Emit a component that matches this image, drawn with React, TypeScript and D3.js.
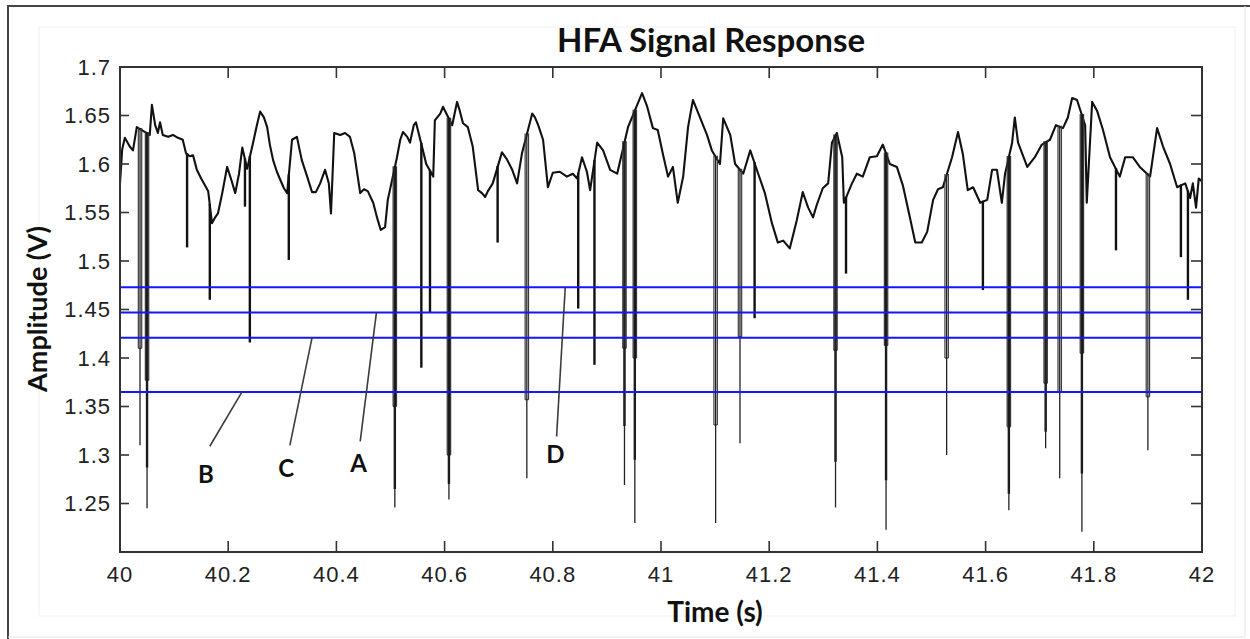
import React from "react";
import * as d3 from "d3";

// ---------- DATA ----------
const baseTime = [
  40.000, 40.004, 40.009, 40.018, 40.024, 40.031, 40.055, 40.059, 40.065, 40.070,
  40.074, 40.079, 40.089, 40.098, 40.107, 40.116, 40.122, 40.129, 40.135, 40.142,
  40.150, 40.157, 40.163, 40.170, 40.176, 40.181, 40.189, 40.198, 40.205, 40.213,
  40.220, 40.226, 40.235, 40.246, 40.253, 40.259, 40.266, 40.272, 40.277, 40.283,
  40.290, 40.296, 40.303, 40.309, 40.318, 40.327, 40.336, 40.346, 40.355, 40.362,
  40.370, 40.379, 40.386, 40.390, 40.396, 40.407, 40.416, 40.425, 40.433, 40.444,
  40.451, 40.458, 40.468, 40.475, 40.482, 40.490, 40.495, 40.512, 40.518, 40.523,
  40.531, 40.536, 40.543, 40.547, 40.560, 40.566, 40.579, 40.582, 40.592, 40.597,
  40.614, 40.623, 40.628, 40.634, 40.643, 40.652, 40.662, 40.669, 40.675, 40.680,
  40.689, 40.706, 40.715, 40.725, 40.734, 40.743, 40.762, 40.767, 40.773, 40.782,
  40.791, 40.800, 40.813, 40.826, 40.837, 40.845, 40.854, 40.863, 40.869, 40.882,
  40.893, 40.906, 40.919, 40.939, 40.965, 40.974, 40.985, 40.994, 41.004, 41.013,
  41.022, 41.031, 41.041, 41.050, 41.059, 41.072, 41.085, 41.094, 41.109, 41.115,
  41.128, 41.137, 41.152, 41.165, 41.179, 41.192, 41.205, 41.216, 41.226, 41.238,
  41.251, 41.262, 41.272, 41.281, 41.288, 41.299, 41.309, 41.316, 41.325, 41.335,
  41.338, 41.353, 41.362, 41.373, 41.386, 41.399, 41.410, 41.423, 41.436, 41.447,
  41.460, 41.470, 41.482, 41.492, 41.503, 41.512, 41.521, 41.538, 41.549, 41.558,
  41.567, 41.577, 41.590, 41.603, 41.612, 41.621, 41.630, 41.636, 41.649, 41.654,
  41.660, 41.677, 41.691, 41.704, 41.719, 41.730, 41.743, 41.752, 41.760, 41.769,
  41.784, 41.787, 41.797, 41.806, 41.817, 41.830, 41.848, 41.858, 41.872, 41.885,
  41.904, 41.917, 41.928, 41.941, 41.954, 41.969, 41.978, 41.983, 41.989, 41.994,
  42.000,
];
const baseValue = [
  1.580, 1.615, 1.627, 1.618, 1.614, 1.638, 1.630, 1.661, 1.640, 1.632,
  1.643, 1.630, 1.628, 1.630, 1.627, 1.625, 1.611, 1.608, 1.609, 1.594,
  1.585, 1.578, 1.572, 1.539, 1.545, 1.549, 1.570, 1.597, 1.585, 1.570,
  1.590, 1.617, 1.595, 1.622, 1.640, 1.654, 1.648, 1.638, 1.620, 1.604,
  1.592, 1.584, 1.575, 1.570, 1.625, 1.628, 1.604, 1.587, 1.571, 1.571,
  1.580, 1.594, 1.580, 1.549, 1.632, 1.630, 1.632, 1.628, 1.611, 1.570,
  1.574, 1.572, 1.560, 1.545, 1.532, 1.535, 1.563, 1.607, 1.625, 1.633,
  1.628, 1.622, 1.640, 1.643, 1.614, 1.600, 1.587, 1.645, 1.652, 1.659,
  1.640, 1.664, 1.655, 1.642, 1.638, 1.618, 1.573, 1.570, 1.566, 1.572,
  1.580, 1.612, 1.605, 1.594, 1.580, 1.611, 1.652, 1.648, 1.640, 1.625,
  1.576, 1.591, 1.592, 1.587, 1.590, 1.585, 1.607, 1.592, 1.573, 1.622,
  1.614, 1.594, 1.590, 1.638, 1.673, 1.660, 1.637, 1.635, 1.609, 1.587,
  1.597, 1.560, 1.587, 1.638, 1.666, 1.648, 1.630, 1.614, 1.600, 1.647,
  1.630, 1.600, 1.590, 1.614, 1.591, 1.570, 1.539, 1.519, 1.521, 1.513,
  1.542, 1.571, 1.555, 1.545, 1.558, 1.575, 1.580, 1.622, 1.632, 1.607,
  1.560, 1.580, 1.590, 1.587, 1.607, 1.608, 1.620, 1.600, 1.597, 1.578,
  1.545, 1.519, 1.519, 1.530, 1.563, 1.574, 1.576, 1.607, 1.633, 1.610,
  1.573, 1.576, 1.560, 1.563, 1.594, 1.594, 1.560, 1.590, 1.622, 1.648,
  1.622, 1.597, 1.607, 1.620, 1.625, 1.640, 1.637, 1.648, 1.668, 1.666,
  1.640, 1.560, 1.664, 1.655, 1.635, 1.607, 1.587, 1.607, 1.607, 1.597,
  1.587, 1.637, 1.618, 1.600, 1.576, 1.580, 1.565, 1.580, 1.555, 1.585,
  1.582,
];

// Downward spikes: time and the successive depths reached (shallow -> deep)
const spikeTime = [
  40.037, 40.050, 40.124, 40.166, 40.231, 40.240, 40.312, 40.508, 40.557, 40.573,
  40.608, 40.698, 40.752, 40.847, 40.877, 40.9325, 40.9516, 41.101, 41.146, 41.173,
  41.3226, 41.342, 41.416, 41.528, 41.595, 41.643, 41.711, 41.737, 41.778, 41.841,
  41.900, 41.961, 41.974,
];
const spikeDepths = [
  [1.41, 1.31], [1.377, 1.287, 1.245], [1.514], [1.46], [1.556], [1.416], [1.501],
  [1.35, 1.265, 1.246], [1.39], [1.447], [1.30, 1.27, 1.254], [1.519], [1.357, 1.276],
  [1.451], [1.393], [1.41, 1.33, 1.269], [1.40, 1.295, 1.23], [1.331, 1.23], [1.422, 1.312],
  [1.441], [1.408, 1.293, 1.246], [1.487], [1.413, 1.274, 1.223], [1.40, 1.30], [1.47],
  [1.329, 1.26, 1.243], [1.374, 1.324, 1.307], [1.365, 1.276], [1.405, 1.281, 1.221],
  [1.511], [1.36, 1.305], [1.504], [1.46],
];

// Threshold levels (blue lines)
const thresholdNames = ["D", "A", "C", "B"];
const thresholdValues = [1.473, 1.447, 1.421, 1.365];

// Annotation labels: text position and leader line (time, amplitude)
const annoLabel = ["B", "C", "A", "D"];
const annoTextT = [40.159, 40.307, 40.441, 40.805];
const annoTextV = [1.281, 1.287, 1.292, 1.302];
const annoFromT = [40.166, 40.314, 40.444, 40.807];
const annoFromV = [1.309, 1.310, 1.314, 1.319];
const annoToT = [40.2255, 40.355, 40.474, 40.823];
const annoToV = [1.365, 1.421, 1.447, 1.473];

const xTicks = [40, 40.2, 40.4, 40.6, 40.8, 41, 41.2, 41.4, 41.6, 41.8, 42];
const xTickLabels = ["40", "40.2", "40.4", "40.6", "40.8", "41", "41.2", "41.4", "41.6", "41.8", "42"];
const yTicks = [1.25, 1.3, 1.35, 1.4, 1.45, 1.5, 1.55, 1.6, 1.65, 1.7];
const yTickLabels = ["1.25", "1.3", "1.35", "1.4", "1.45", "1.5", "1.55", "1.6", "1.65", "1.7"];

// ---------- LAYOUT ----------
const W = 1250;
const H = 639;
const plot = { left: 120, right: 1202, top: 67, bottom: 552 };

export default function App() {
  const x = d3.scaleLinear().domain([40, 42]).range([plot.left, plot.right]);
  const y = d3.scaleLinear().domain([1.2, 1.7]).range([plot.bottom, plot.top]);
  const baseAt = d3.scaleLinear().domain(baseTime).range(baseValue).clamp(true);

  const pts: [number, number][] = baseTime.map((t, i) => [t, baseValue[i]]);
  const line = d3
    .line<[number, number]>()
    .x((d) => x(d[0]))
    .y((d) => y(d[1]));

  const spikeLines: React.ReactNode[] = [];
  spikeTime.forEach((t, i) => {
    const depths = spikeDepths[i];
    const px = x(t);
    const top = y(baseAt(t)) - 1;
    depths.forEach((dv, j) => {
      const yy = y(dv);
      if (depths.length > 1 && j === 0) {
        [-1.7, 1.7].forEach((o, k) =>
          spikeLines.push(
            <line key={`s${i}-${j}-${k}`} x1={px + o} x2={px + o} y1={top} y2={yy}
              stroke="#3a3a3a" strokeWidth={1.2} />
          )
        );
        spikeLines.push(
          <line key={`s${i}-${j}-f`} x1={px - 1.7} x2={px + 1.7} y1={yy} y2={yy}
            stroke="#3a3a3a" strokeWidth={1.2} />
        );
      } else if (j === depths.length - 1 && depths.length > 1) {
        spikeLines.push(
          <line key={`s${i}-${j}`} x1={px} x2={px} y1={top} y2={yy}
            stroke="#222" strokeWidth={1.3} />
        );
      } else {
        spikeLines.push(
          <line key={`s${i}-${j}`} x1={px} x2={px} y1={top} y2={yy}
            stroke="#111" strokeWidth={2.4} />
        );
      }
    });
  });

  const axisColor = "#333";
  const tickFont = "'Liberation Sans', Arial, sans-serif";
  const boldFont = "Lato, 'Open Sans', sans-serif";

  return (
    <svg width={W} height={H} style={{ position: "absolute", left: 0, top: 0, background: "#fff" }}>
      <rect x={0} y={0} width={W} height={H} fill="#fff" />
      {/* faint figure area */}
      <rect x={39} y={27} width={1196} height={589} fill="none" stroke="#f0f0f0" strokeWidth={1} />
      {/* outer frame */}
      <path d={`M8,${H} V6 H${W}`} fill="none" stroke="#444" strokeWidth={2} />
      <path d={`M8,637 H1245 V6`} fill="none" stroke="#e6e6e6" strokeWidth={1} />

      {/* signal */}
      <path d={line(pts) || ""} fill="none" stroke="#111" strokeWidth={2.1} strokeLinejoin="round" />
      {spikeLines}

      {/* thresholds */}
      {thresholdValues.map((v, i) => (
        <line key={thresholdNames[i]} x1={plot.left} x2={plot.right} y1={y(v)} y2={y(v)}
          stroke="#1515ff" strokeWidth={2} />
      ))}

      {/* annotations */}
      {annoLabel.map((lab, i) => (
        <g key={lab}>
          <line x1={x(annoFromT[i])} y1={y(annoFromV[i])} x2={x(annoToT[i])} y2={y(annoToV[i])}
            stroke="#3c3c3c" strokeWidth={1.6} />
          <text x={x(annoTextT[i])} y={y(annoTextV[i])} textAnchor="middle" dominantBaseline="central"
            fontFamily={boldFont} fontWeight={700} fontSize={24} fill="#111">{lab}</text>
        </g>
      ))}

      {/* axes box */}
      <rect x={plot.left} y={plot.top} width={plot.right - plot.left} height={plot.bottom - plot.top}
        fill="none" stroke={axisColor} strokeWidth={2} />

      {/* x ticks */}
      {xTicks.map((t, i) => (
        <g key={`xt${i}`}>
          <line x1={x(t)} x2={x(t)} y1={plot.bottom} y2={plot.bottom - 11} stroke={axisColor} strokeWidth={1.6} />
          <line x1={x(t)} x2={x(t)} y1={plot.top} y2={plot.top + 11} stroke={axisColor} strokeWidth={1.6} />
          <text x={x(t)} y={582} textAnchor="middle" fontFamily={tickFont} fontSize={22}
            letterSpacing={1} fill="#222">{xTickLabels[i]}</text>
        </g>
      ))}
      {/* y ticks */}
      {yTicks.map((v, i) => (
        <g key={`yt${i}`}>
          <line x1={plot.left} x2={plot.left + 9} y1={y(v)} y2={y(v)} stroke={axisColor} strokeWidth={1.6} />
          <line x1={plot.right} x2={plot.right - 11} y1={y(v)} y2={y(v)} stroke={axisColor} strokeWidth={1.6} />
          <text x={111} y={y(v)} textAnchor="end" dominantBaseline="central" fontFamily={tickFont}
            fontSize={22} letterSpacing={1} fill="#222">{yTickLabels[i]}</text>
        </g>
      ))}

      {/* titles */}
      <text x={711} y={52} textAnchor="middle" fontFamily={boldFont} fontWeight={700} fontSize={33} fill="#111">
        HFA Signal Response
      </text>
      <text x={715} y={622} textAnchor="middle" fontFamily={boldFont} fontWeight={700} fontSize={28} fill="#111">
        Time (s)
      </text>
      <text transform={`translate(47,309) rotate(-90)`} textAnchor="middle" fontFamily={boldFont}
        fontWeight={700} fontSize={27} fill="#111">
        Amplitude (V)
      </text>
    </svg>
  );
}
